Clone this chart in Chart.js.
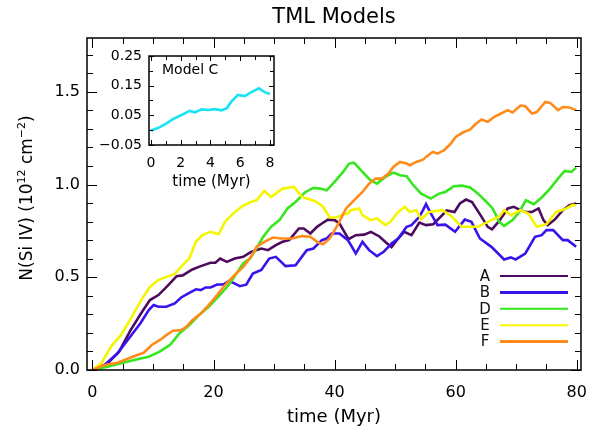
<!DOCTYPE html>
<html>
<head>
<meta charset="utf-8">
<script src="https://cdn.jsdelivr.net/npm/chart.js@4.4.1/dist/chart.umd.min.js"></script>
<style>
  html, body { margin: 0; padding: 0; background: #fff; }
  #wrap { position: relative; width: 600px; height: 434px; }
  #mainChart { position: absolute; left: 0; top: 0; }
  #insetChart { position: absolute; left: 95px; top: 40px; }
</style>
</head>
<body>
<div id="wrap">
  <canvas id="mainChart" width="600" height="434"></canvas>
  <canvas id="insetChart" width="190" height="155"></canvas>
</div>
<script>
const chartTitle = 'TML Models';
const xTitle = 'time (Myr)';
const insetTitle = 'Model C';

const seriesNames = ['A', 'B', 'D', 'E', 'F'];
const seriesColors = ['#4e0a5e', '#3a12ee', '#36e61e', '#f5f500', '#ff8c1a'];
const legendWidths = [2, 3, 2, 2, 3];

const xTicks = [0, 20, 40, 60, 80];
const yTicks = [0, 0.5, 1.0, 1.5];
const insetXTicks = [0, 2, 4, 6, 8];
const insetYTicks = [-0.05, 0.05, 0.15, 0.25];

const timeA = [0, 2.5, 4.4, 6.3, 8.2, 9.5, 10.9, 12, 12.8, 13.9, 14.9, 16.5, 17.9, 19.5, 20.3, 21.1, 22.2, 23.5, 24.9, 26.2, 27.9, 29, 30.3, 31.4, 32.5, 34.1, 34.9, 36, 37.1, 37.9, 38.9, 40, 40.8, 42.3, 43.5, 44.9, 46, 47.4, 48.4, 49.4, 50.5, 51.5, 52.7, 54, 55.1, 56.3, 57.5, 58.5, 59.8, 60.7, 61.7, 62.7, 64.1, 65.3, 66, 67.1, 68.6, 69.6, 70.7, 71.5, 72.6, 73.7, 74.5, 75.2, 76.4, 77.7, 78.8, 79.9];
const nA = [0, 0.036, 0.099, 0.215, 0.314, 0.377, 0.404, 0.44, 0.467, 0.506, 0.51, 0.542, 0.56, 0.578, 0.578, 0.601, 0.583, 0.601, 0.61, 0.637, 0.655, 0.646, 0.673, 0.691, 0.7, 0.763, 0.763, 0.736, 0.772, 0.79, 0.811, 0.808, 0.79, 0.705, 0.727, 0.73, 0.745, 0.72, 0.69, 0.662, 0.709, 0.745, 0.727, 0.795, 0.781, 0.786, 0.826, 0.86, 0.852, 0.898, 0.919, 0.906, 0.835, 0.772, 0.758, 0.8, 0.871, 0.88, 0.862, 0.852, 0.852, 0.871, 0.808, 0.781, 0.812, 0.862, 0.889, 0.898];

const timeB = [0, 2, 4.15, 6.04, 7.9, 9.3, 10.1, 10.9, 12.2, 13.6, 14.65, 16, 17.1, 17.9, 18.7, 19.5, 20.6, 21.6, 22.5, 23.3, 24.35, 25.4, 26.5, 27.9, 29.2, 30.3, 31.9, 33.55, 35.4, 36.5, 37.9, 38.7, 39.5, 40.8, 42.2, 43.5, 44.6, 45.7, 47, 48.1, 49.4, 50.5, 51.9, 52.7, 54, 54.6, 55.1, 55.9, 57, 58.3, 59.9, 61.5, 62.6, 64, 65.9, 68, 69.1, 69.9, 71.5, 73.1, 74.2, 75, 76.1, 77.7, 78.5, 79.9];
const nB = [0, 0.027, 0.09, 0.171, 0.251, 0.323, 0.35, 0.341, 0.341, 0.359, 0.391, 0.416, 0.435, 0.431, 0.445, 0.445, 0.461, 0.461, 0.479, 0.47, 0.452, 0.46, 0.52, 0.539, 0.601, 0.61, 0.56, 0.565, 0.646, 0.655, 0.7, 0.709, 0.736, 0.736, 0.7, 0.628, 0.691, 0.646, 0.614, 0.637, 0.682, 0.709, 0.772, 0.781, 0.826, 0.862, 0.894, 0.844, 0.781, 0.784, 0.745, 0.811, 0.799, 0.709, 0.664, 0.596, 0.607, 0.596, 0.628, 0.718, 0.727, 0.754, 0.754, 0.7, 0.7, 0.664];

const timeD = [0, 2.5, 4.7, 7.4, 9.3, 11.1, 12.8, 14.4, 16, 17.6, 19.2, 20.8, 22.5, 23.8, 24.9, 26, 26.8, 28.2, 29.5, 30.9, 32.2, 33.55, 35.2, 36.5, 37.6, 38.7, 40, 41.4, 42.4, 43.2, 44.6, 45.9, 47, 48.4, 49.7, 50.8, 51.9, 52.9, 54.3, 55.9, 57.25, 58.3, 59.7, 61, 62.4, 63.7, 65.1, 66.1, 67.2, 68, 69.4, 70.5, 71.6, 72.9, 74.3, 75.6, 76.9, 78, 79.1, 79.9];
const nD = [0, 0.018, 0.036, 0.058, 0.072, 0.099, 0.135, 0.198, 0.242, 0.296, 0.341, 0.395, 0.458, 0.521, 0.575, 0.601, 0.64, 0.718, 0.772, 0.808, 0.871, 0.906, 0.96, 0.982, 0.978, 0.969, 1.014, 1.068, 1.113, 1.118, 1.068, 1.023, 1.005, 1.041, 1.064, 1.05, 1.045, 1.0, 0.951, 0.924, 0.951, 0.96, 0.991, 0.994, 0.984, 0.951, 0.906, 0.871, 0.799, 0.777, 0.808, 0.852, 0.915, 0.894, 0.933, 0.978, 1.032, 1.073, 1.068, 1.091];

const timeE = [0, 1.45, 3.07, 4.7, 6.04, 7.1, 8.46, 9.53, 10.9, 12.2, 13.57, 14.9, 16, 17.07, 18.15, 19.5, 20.84, 21.9, 23.26, 24.6, 25.96, 27.1, 28.4, 29.5, 31.4, 33.3, 34.6, 36.8, 38.1, 39.2, 40.3, 41.4, 42.2, 42.7, 44.05, 44.6, 45.9, 47, 48.4, 49.2, 50.5, 51.6, 52.4, 53.5, 54.3, 55.6, 57.8, 59.4, 61, 63.7, 65.9, 67.2, 68, 69.1, 70.7, 72, 73.4, 75, 76.6, 78.3, 79.3, 79.9];
const nE = [0, 0.036, 0.126, 0.188, 0.26, 0.323, 0.398, 0.449, 0.485, 0.502, 0.517, 0.565, 0.601, 0.69, 0.727, 0.745, 0.732, 0.799, 0.844, 0.88, 0.903, 0.915, 0.966, 0.933, 0.978, 0.987, 0.933, 0.91, 0.88, 0.822, 0.822, 0.84, 0.844, 0.862, 0.871, 0.835, 0.808, 0.817, 0.781, 0.799, 0.852, 0.88, 0.852, 0.862, 0.812, 0.852, 0.862, 0.826, 0.772, 0.772, 0.808, 0.826, 0.862, 0.835, 0.862, 0.844, 0.772, 0.786, 0.852, 0.871, 0.889, 0.889];

const timeF = [0, 2, 4.15, 6.04, 7.4, 8.46, 9.8, 11.15, 12.2, 13.3, 14.65, 15.5, 16.5, 17.9, 19.2, 20.6, 21.9, 23.5, 24.9, 26.2, 27.1, 28.4, 29.8, 31.1, 33, 34.6, 36, 37.1, 38.1, 39.2, 40.5, 41.9, 43.2, 44.6, 45.7, 46.75, 47.8, 48.9, 49.7, 50.8, 51.9, 52.4, 53.5, 54.6, 55.1, 56.2, 57, 58.1, 59.2, 60, 61.1, 62.4, 63.4, 64.3, 65.3, 66.4, 67.5, 68.6, 69.4, 70.7, 71.5, 72.6, 73.4, 74.8, 75.6, 76.9, 77.7, 78.8, 79.9];
const nF = [0, 0.027, 0.039, 0.063, 0.081, 0.093, 0.135, 0.162, 0.188, 0.212, 0.215, 0.233, 0.269, 0.305, 0.35, 0.404, 0.458, 0.512, 0.556, 0.61, 0.664, 0.691, 0.714, 0.709, 0.709, 0.722, 0.718, 0.691, 0.678, 0.709, 0.781, 0.871, 0.915, 0.96, 1.005, 1.032, 1.032, 1.059, 1.095, 1.122, 1.113, 1.104, 1.122, 1.134, 1.149, 1.176, 1.167, 1.185, 1.221, 1.257, 1.279, 1.297, 1.329, 1.351, 1.338, 1.365, 1.383, 1.401, 1.388, 1.426, 1.422, 1.383, 1.391, 1.445, 1.44, 1.401, 1.418, 1.415, 1.401];

// Model C, inset
const timeC = [0, 0.6, 1.05, 1.5, 2.05, 2.6, 2.95, 3.4, 3.85, 4.3, 4.75, 5.1, 5.4, 5.85, 6.3, 6.75, 7.25, 7.65, 8.0];
const nC = [-0.002, 0.01, 0.023, 0.038, 0.051, 0.065, 0.06, 0.07, 0.068, 0.071, 0.067, 0.074, 0.096, 0.119, 0.115, 0.128, 0.141, 0.128, 0.122];

const FONT = '"DejaVu Sans", sans-serif';
Chart.defaults.font.family = FONT;
Chart.defaults.color = '#000';

const toPoints = (xs, ys) => xs.map((x, i) => ({ x, y: ys[i] }));

function steps(from, to, step) {
  const out = [];
  const n = Math.round((to - from) / step);
  for (let i = 0; i <= n; i++) {
    out.push(Math.round((from + i * step) * 1000) / 1000);
  }
  return out;
}

// box round the plot with ticks pointing inwards (IDL style)
function framePlugin(xMinor, yMinor, xMajor, yMajor, minorLen, majorLen) {
  return {
    id: 'frame',
    afterDatasetsDraw(chart) {
      const { ctx, chartArea: a, scales: { x, y } } = chart;
      ctx.save();
      ctx.strokeStyle = '#000';
      ctx.lineWidth = 1;
      ctx.beginPath();
      xMinor.forEach((v) => {
        const px = Math.round(x.getPixelForValue(v)) + 0.5;
        const len = xMajor.includes(v) ? majorLen : minorLen;
        ctx.moveTo(px, a.bottom);
        ctx.lineTo(px, a.bottom - len);
        ctx.moveTo(px, a.top);
        ctx.lineTo(px, a.top + len);
      });
      yMinor.forEach((v) => {
        const py = Math.round(y.getPixelForValue(v)) + 0.5;
        const len = yMajor.includes(v) ? majorLen : minorLen;
        ctx.moveTo(a.left, py);
        ctx.lineTo(a.left + len, py);
        ctx.moveTo(a.right, py);
        ctx.lineTo(a.right - len, py);
      });
      ctx.stroke();
      ctx.lineWidth = 1.5;
      ctx.strokeRect(a.left, a.top, a.right - a.left, a.bottom - a.top);
      ctx.restore();
    },
  };
}

const mainText = {
  id: 'mainText',
  afterDraw(chart) {
    const { ctx, chartArea: a } = chart;
    const cx = (a.left + a.right) / 2;
    ctx.save();
    ctx.fillStyle = '#000';
    ctx.textAlign = 'center';
    ctx.textBaseline = 'middle';
    ctx.font = `21px ${FONT}`;
    ctx.fillText(chartTitle, cx, 18);
    ctx.font = `18px ${FONT}`;
    ctx.fillText(xTitle, cx, 417);

    // y title with superscripts
    const parts = [
      { t: 'N(Si IV) (10', sup: false },
      { t: '12', sup: true },
      { t: ' cm', sup: false },
      { t: '\u22122', sup: true },
      { t: ')', sup: false },
    ];
    const fontOf = (p) => (p.sup ? `11px ${FONT}` : `17px ${FONT}`);
    let total = 0;
    parts.forEach((p) => {
      ctx.font = fontOf(p);
      total += ctx.measureText(p.t).width;
    });
    ctx.translate(32, 198);
    ctx.rotate(-Math.PI / 2);
    ctx.textAlign = 'left';
    ctx.textBaseline = 'alphabetic';
    let pos = -total / 2;
    parts.forEach((p) => {
      ctx.font = fontOf(p);
      ctx.fillText(p.t, pos, p.sup ? -7 : 0);
      pos += ctx.measureText(p.t).width;
    });
    ctx.restore();

    // legend
    ctx.save();
    ctx.font = `15px ${FONT}`;
    ctx.textAlign = 'center';
    ctx.textBaseline = 'middle';
    seriesNames.forEach((name, i) => {
      const y = 276 + i * 16.4;
      ctx.fillStyle = '#111';
      ctx.fillText(name, 485, y + 1);
      ctx.strokeStyle = seriesColors[i];
      ctx.lineWidth = legendWidths[i];
      ctx.beginPath();
      ctx.moveTo(500, y);
      ctx.lineTo(568, y);
      ctx.stroke();
    });
    ctx.restore();
  },
};

const seriesData = [
  toPoints(timeA, nA),
  toPoints(timeB, nB),
  toPoints(timeD, nD),
  toPoints(timeE, nE),
  toPoints(timeF, nF),
];

new Chart(document.getElementById('mainChart'), {
  type: 'line',
  data: {
    datasets: seriesNames.map((name, i) => ({
      label: name,
      data: seriesData[i],
      borderColor: seriesColors[i],
      borderWidth: 2.6,
      order: seriesNames.length - i,
    })),
  },
  options: {
    responsive: false,
    animation: false,
    layout: { padding: { left: 0, right: 8, top: 38, bottom: 0 } },
    elements: { point: { radius: 0 }, line: { tension: 0 } },
    plugins: { legend: { display: false }, tooltip: { enabled: false } },
    scales: {
      x: {
        type: 'linear',
        min: -0.9,
        max: 80.7,
        grid: { display: false, drawTicks: false },
        border: { display: false },
        afterBuildTicks: (s) => { s.ticks = xTicks.map((v) => ({ value: v })); },
        afterFit: (s) => { s.height = 64; },
        ticks: { padding: 13, font: { size: 16 }, maxRotation: 0 },
      },
      y: {
        min: 0,
        max: 1.79,
        grid: { display: false, drawTicks: false },
        border: { display: false },
        afterBuildTicks: (s) => { s.ticks = yTicks.map((v) => ({ value: v })); },
        afterFit: (s) => { s.width = 87; },
        ticks: { padding: 7, font: { size: 16 }, callback: (v) => v.toFixed(1) },
      },
    },
  },
  plugins: [framePlugin(steps(0, 80, 5), steps(0, 1.7, 0.1), xTicks, yTicks, 6, 10), mainText],
});

const insetText = {
  id: 'insetText',
  afterDraw(chart) {
    const { ctx, chartArea: a } = chart;
    ctx.save();
    ctx.fillStyle = '#000';
    ctx.textBaseline = 'middle';
    ctx.textAlign = 'left';
    ctx.font = `14px ${FONT}`;
    ctx.fillText(insetTitle, a.left + 13, 30);
    ctx.textAlign = 'center';
    ctx.font = `15px ${FONT}`;
    ctx.fillText(xTitle, (a.left + a.right) / 2, 142);
    ctx.restore();
  },
};

new Chart(document.getElementById('insetChart'), {
  type: 'line',
  data: {
    datasets: [{
      label: insetTitle,
      data: toPoints(timeC, nC),
      borderColor: '#19e3f5',
      borderWidth: 2.6,
    }],
  },
  options: {
    responsive: false,
    animation: false,
    layout: { padding: { left: 0, right: 11, top: 16, bottom: 0 } },
    elements: { point: { radius: 0 }, line: { tension: 0 } },
    plugins: { legend: { display: false }, tooltip: { enabled: false } },
    scales: {
      x: {
        type: 'linear',
        min: -0.13,
        max: 8.27,
        grid: { display: false, drawTicks: false },
        border: { display: false },
        afterBuildTicks: (s) => { s.ticks = insetXTicks.map((v) => ({ value: v })); },
        afterFit: (s) => { s.height = 50; },
        ticks: { padding: 10, font: { size: 14 }, maxRotation: 0 },
      },
      y: {
        min: -0.05,
        max: 0.25,
        grid: { display: false, drawTicks: false },
        border: { display: false },
        afterBuildTicks: (s) => { s.ticks = insetYTicks.map((v) => ({ value: v })); },
        afterFit: (s) => { s.width = 54; },
        ticks: {
          padding: 7,
          font: { size: 14 },
          callback: (v) => (v < 0 ? `\u2212${Math.abs(v).toFixed(2)}` : v.toFixed(2)),
        },
      },
    },
  },
  plugins: [framePlugin(steps(0, 8, 1), steps(-0.05, 0.25, 0.05), insetXTicks, insetYTicks, 4, 5), insetText],
});
</script>
</body>
</html>
